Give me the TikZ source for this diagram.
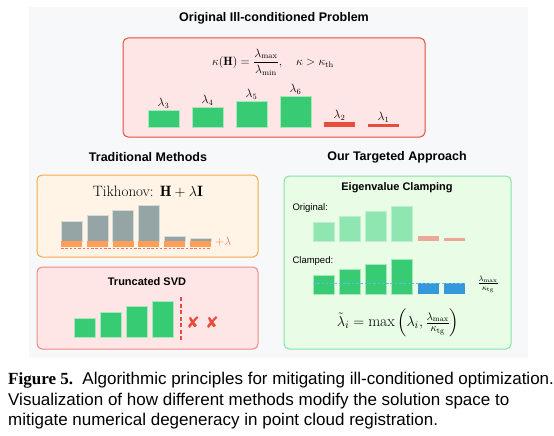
\documentclass[tikz,border=0pt]{standalone}
\usepackage{amsmath}
\usepackage{amssymb}
\usepackage{fontspec}
\setsansfont{Liberation Sans}
\newfontfamily\capserif{Liberation Serif}
\newfontfamily\symfont{DejaVu Sans}
\usetikzlibrary{positioning, calc}

\definecolor{panelbg}{HTML}{F7F8FA}
\definecolor{probfill}{HTML}{FFE6E6}
\definecolor{probline}{HTML}{E74C3C}
\definecolor{truncline}{HTML}{EE8A80}
\definecolor{tikfill}{HTML}{FFF4E6}
\definecolor{tikline}{HTML}{F5A94A}
\definecolor{clampfill}{HTML}{E8FCE6}
\definecolor{clampline}{HTML}{86E3A6}
\definecolor{eiggreen}{HTML}{37CC73}
\definecolor{eiggreenl}{HTML}{A6E8BC}
\definecolor{eigred}{HTML}{E74C3C}
\definecolor{eiggray}{HTML}{95A5A6}
\definecolor{eigorange}{HTML}{FF9F5A}
\definecolor{origgreen}{HTML}{8FE6B0}
\definecolor{origred}{HTML}{EBA898}
\definecolor{eigblue}{HTML}{3498DB}
\definecolor{dashblue}{HTML}{6BB8EA}

\begin{document}
\begin{tikzpicture}[x=1pt,y=-1pt,
    panel/.style={rounded corners=5pt, line width=1pt},
    heading/.style={font=\sffamily\bfseries\fontsize{12.5}{14}\selectfont},
    subheading/.style={font=\sffamily\bfseries\fontsize{11}{13}\selectfont},
    tag/.style={font=\sffamily\fontsize{9.5}{11}\selectfont, anchor=west},
    lam/.style={above, inner sep=1.5pt, font=\fontsize{12}{13}\selectfont}]
    \useasboundingbox (0,0) rectangle (554,436);
    \fill[panelbg] (29,7) rectangle (528,358);

    % problem
    \node[heading] (probtitle) at (274,18) {Original Ill-conditioned Problem};
    \draw[panel, fill=probfill, draw=probline] (123,38) rectangle (425,137);
    \node[font=\fontsize{12}{14}\selectfont] (kappa) at (273,62)
        {$\kappa(\mathbf{H}) = \dfrac{\lambda_{\max}}{\lambda_{\min}},\quad \kappa > \kappa_{\text{th}}$};
    \foreach \x/\h/\i in {148/17/3, 192/20/4, 236/26/5, 280/31/6} {
        \draw[fill=eiggreen, draw=eiggreenl, line width=.6pt] (\x,127) rectangle ++(31,-\h);
        \node[lam] (l\i) at (\x+15.5,127-\h) {$\lambda_{\i}$};
    }
    \foreach \x/\h/\i in {324/5/2, 368/3/1} {
        \fill[eigred] (\x,127) rectangle ++(31,-\h);
        \node[lam] (l\i) at (\x+15.5,127-\h) {$\lambda_{\i}$};
    }

    % traditional
    \node[heading] (tradtitle) at (148,157) {Traditional Methods};
    \draw[panel, fill=tikfill, draw=tikline] (37,175) rectangle (258,257);
    \node[font=\fontsize{15}{17}\selectfont] (tikh) at (148,192) {Tikhonov: $\mathbf{H}+\lambda\mathbf{I}$};
    \foreach \h [count=\i from 0] in {20,26,31,36,5,3} {
        \draw[fill=eiggray, draw=eiggray!40, line width=.6pt] (61+25.8*\i,241) rectangle ++(21,-\h);
        \fill[eigorange] (61+25.8*\i,247) rectangle ++(21,-6);
    }
    \coordinate (tikl) at (61,248);
    \coordinate (tikr) at (211,248);
    \draw[eigred!80, dash pattern=on 2.5pt off 1.8pt, line width=.8pt] (tikl) -- (tikr);
    \node[anchor=west, text=eigred!80, inner sep=1pt, font=\fontsize{12}{13}\selectfont] (pluslam) at (214,242) {$+\lambda$};

    \draw[panel, fill=probfill, draw=truncline] (37,267) rectangle (258,349);
    \node[subheading] (trunctitle) at (147,282) {Truncated SVD};
    \foreach \h [count=\i from 0] in {19,25,31,36} {
        \draw[fill=eiggreen, draw=eiggreenl, line width=.6pt] (74+26*\i,337) rectangle ++(21,-\h);
    }
    \coordinate (cuttop) at (181,297);
    \coordinate (cutbot) at (181,341);
    \draw[eigred, dash pattern=on 4pt off 2.5pt, line width=1.4pt] (cuttop) -- (cutbot);
    \node[text=eigred, font=\symfont\fontsize{16}{17}\selectfont] (x1) at (193,323) {✘};
    \node[text=eigred, font=\symfont\fontsize{16}{17}\selectfont] (x2) at (212,323) {✘};

    % targeted
    \node[heading] (ourtitle) at (397,157) {Our Targeted Approach};
    \draw[panel, fill=clampfill, draw=clampline] (284,176) rectangle (511,349);
    \node[subheading] (clamptitle) at (397,188) {Eigenvalue Clamping};
    \node[tag] (origtag) at (289,208) {Original:};
    \foreach \h [count=\i from 0] in {19,25,30,35} {
        \draw[fill=origgreen, draw=origgreen!60, line width=.6pt] (313+26.2*\i,241) rectangle ++(21,-\h);
    }
    \foreach \h [count=\i from 4] in {5,3} {
        \fill[origred] (313+26.2*\i,241) rectangle ++(21,-\h);
    }
    \node[tag] (clamptag) at (289,261) {Clamped:};
    \foreach \h [count=\i from 0] in {19,25,30,35} {
        \draw[fill=eiggreen, draw=eiggreenl, line width=.6pt] (313+26.2*\i,294) rectangle ++(21,-\h);
    }
    \foreach \i in {4,5} {
        \fill[eigblue] (313+26.2*\i,294) rectangle ++(21,-11);
    }
    \coordinate (floorl) at (313,283);
    \coordinate (floorr) at (465,283);
    \draw[dashblue, dash pattern=on 2.5pt off 1.8pt, line width=.8pt] (floorl) -- (floorr);
    \node[font=\fontsize{12}{14}\selectfont] (floorlab) at (488,284) {$\frac{\lambda_{\max}}{\kappa_{\text{tg}}}$};
    \node[font=\fontsize{15.5}{17}\selectfont] (clampeq) at (398,323)
        {$\tilde{\lambda}_i = \max\left(\lambda_i, \frac{\lambda_{\max}}{\kappa_{\text{tg}}}\right)$};

    % caption
    \node[anchor=north west, align=left, inner sep=0pt, font=\sffamily\fontsize{17}{20.5}\selectfont] (caption) at (8,372)
        {{\capserif\bfseries Figure 5.}\ \ Algorithmic principles for mitigating ill-conditioned optimization.\\
         Visualization of how different methods modify the solution space to\\
         mitigate numerical degeneracy in point cloud registration.};
\end{tikzpicture}
\end{document}
